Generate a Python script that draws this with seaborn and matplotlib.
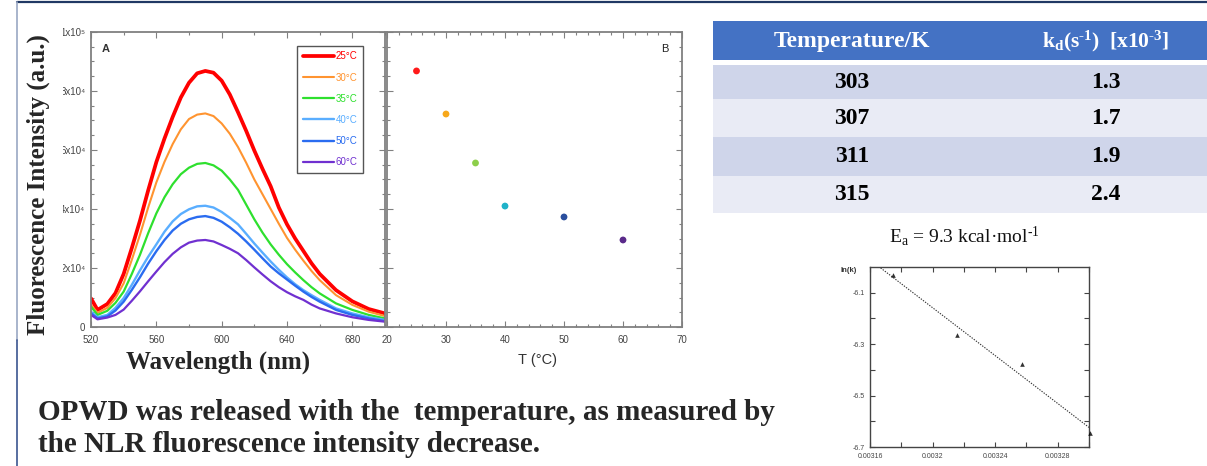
import numpy as np
import pandas as pd
import matplotlib
matplotlib.use("Agg")
import matplotlib.pyplot as plt
import seaborn as sns
from matplotlib.transforms import Bbox
from matplotlib.patches import Rectangle
from matplotlib.lines import Line2D


# ======================================================
# DATA
# ======================================================
# panel A: emission spectra, intensity in units of 10^3
wavelength = [520, 524, 530, 535, 540, 545, 550, 555, 560, 565, 570, 575, 580, 585,
              590, 595, 600, 605, 610, 615, 620, 625, 630, 635, 640, 645, 650, 655,
              660, 670, 680, 690, 700]
int_25 = [9.7, 5.8, 7.8, 11.5, 18.0, 26.8, 36.1, 46.3, 55.9, 63.9, 71.2, 77.8, 82.8, 86.0,
          86.8, 86.2, 83.5, 78.8, 72.8, 66.5, 59.8, 53.6, 47.7, 40.5, 34.8, 30.0, 25.8, 21.6,
          18.0, 12.5, 8.7, 6.1, 4.6]
int_30 = [7.5, 4.8, 6.5, 9.8, 14.8, 22.8, 31.3, 40.5, 49.0, 56.0, 62.0, 67.0, 70.5, 72.0,
          72.4, 71.5, 69.0, 65.5, 61.0, 55.7, 50.0, 45.0, 40.0, 35.0, 30.2, 26.2, 22.5, 19.0,
          15.9, 10.8, 7.5, 5.2, 3.7]
int_35 = [6.9, 4.1, 5.5, 8.2, 12.0, 18.0, 24.5, 31.8, 38.5, 44.0, 48.4, 51.8, 54.0, 55.3,
          55.6, 54.8, 53.0, 50.0, 46.5, 41.5, 36.5, 32.0, 28.0, 24.5, 21.3, 18.5, 15.9, 13.5,
          11.4, 8.0, 5.8, 4.1, 2.9]
int_40 = [5.2, 3.3, 4.1, 6.5, 9.8, 14.3, 19.2, 23.8, 28.0, 32.3, 35.8, 38.3, 39.9, 40.9,
          41.1, 40.5, 39.0, 37.0, 34.8, 31.6, 28.3, 25.2, 22.2, 19.4, 16.8, 14.5, 12.5, 10.8,
          9.2, 6.3, 4.6, 3.3, 2.4]
int_50 = [4.6, 2.9, 3.6, 5.6, 8.6, 12.6, 16.9, 21.5, 25.7, 29.5, 32.7, 35.0, 36.5, 37.3,
          37.6, 37.0, 35.7, 33.8, 31.6, 29.0, 26.2, 23.3, 20.5, 18.2, 16.1, 14.0, 12.0, 10.2,
          8.6, 5.8, 4.1, 2.9, 2.0]
int_60 = [4.1, 2.6, 3.2, 4.1, 5.9, 8.9, 12.1, 15.5, 18.8, 22.0, 24.8, 27.0, 28.6, 29.3,
          29.5, 29.0, 27.8, 26.5, 25.0, 22.7, 20.2, 17.8, 15.5, 13.5, 11.8, 10.4, 9.2, 7.6,
          6.3, 4.6, 3.3, 2.4, 1.8]
temp_labels = ["25°C", "30°C", "35°C", "40°C", "50°C", "60°C"]

# panel B: peak intensity vs temperature (10^3)
temps_C = [25, 30, 35, 40, 50, 60]
peak_int = [86.8, 72.2, 55.6, 41.0, 37.3, 29.5]

# table + arrhenius inset
temps_K = [303, 307, 311, 315]
kd = [1.3, 1.7, 1.9, 2.4]          # x10^-3 s^-1
table_header = ["Temperature/K", r"$\mathbf{k_d(s^{‐1})\ \ [x10^{‐3}]}$"]
ea_text = r"E$_\mathrm{a}$ = 9.3 kcal·mol$^{‐1}$"

ytick_labels_A = ["0", "2x10⁴", "4x10⁴", "6x10⁴", "8x10⁴", "1x10⁵"]
xtick_labels_C = ["0.00316", "0.0032", "0.00324", "0.00328"]
ytick_labels_C = ["-6.7", "-6.5", "-6.3", "-6.1"]

caption = ["OPWD was released with the  temperature, as measured by",
           "the NLR fluorescence intensity decrease."]


# ======================================================
# STYLE
# ======================================================
sns.set_theme(style="white")
plt.rcParams['font.family'] = ['Liberation Sans', 'DejaVu Sans']
plt.rcParams['mathtext.fontset'] = 'custom'
plt.rcParams['mathtext.rm'] = 'Liberation Serif'
plt.rcParams['mathtext.it'] = 'Liberation Serif:italic'
plt.rcParams['mathtext.bf'] = 'Liberation Serif:bold'

line_colors = {"25°C": "#ff0000", "30°C": "#ff9430", "35°C": "#2ee02e",
               "40°C": "#5aaeff", "50°C": "#2a6cf0", "60°C": "#7030d0"}
line_widths = {"25°C": 2.7, "30°C": 1.5, "35°C": 1.6,
               "40°C": 1.7, "50°C": 1.7, "60°C": 1.6}
point_colors = ["#ff1a1a", "#f7a81b", "#8dcf4a", "#1fb2c9", "#2a4f9e", "#5a2a8a"]
serif = ['Liberation Serif', 'DejaVu Serif']

W, H = 1207, 466
fig = plt.figure(figsize=(W / 100, H / 100), dpi=100)


def px_axes(left, top, right, bottom):
    return fig.add_axes([left / W, 1 - bottom / H, (right - left) / W, (bottom - top) / H])


def frame(ax, color, lw):
    for s in ax.spines.values():
        s.set_visible(True)
        s.set_color(color)
        s.set_linewidth(lw)
    ax.tick_params(which='both', direction='in', top=True, right=True,
                   bottom=True, left=True, color=color, width=0.8)


# background layer in pixel coords (slide border, table, text)
bg = fig.add_axes([0, 0, 1, 1], zorder=-1)
bg.set_xlim(0, W)
bg.set_ylim(H, 0)
bg.axis('off')

bg.plot([17, W], [1.5, 1.5], color="#203864", lw=1.6)
bg.plot([17, 17], [1.5, 340], color="#9aa8c4", lw=1.2)
bg.plot([17, 17], [340, H], color="#3b5590", lw=1.2)


# ======================================================
# PANEL A - SPECTRA
# ======================================================
spectra = [int_25, int_30, int_35, int_40, int_50, int_60]
df = pd.DataFrame({
    "wavelength": wavelength * len(spectra),
    "intensity": np.concatenate(spectra) * 1e3,
    "temp": np.repeat(temp_labels, len(wavelength)),
})

axA = px_axes(91, 32, 385, 327)
sns.lineplot(data=df, x="wavelength", y="intensity", hue="temp", size="temp",
             palette=line_colors, sizes=line_widths, hue_order=temp_labels,
             size_order=temp_labels, estimator=None, legend=False, ax=axA)
for ln in axA.get_lines():
    ln.set_solid_joinstyle('round')
axA.set_xlim(520, 700)
axA.set_ylim(0, 1e5)
axA.set_xlabel("")
axA.set_ylabel("")
frame(axA, "#808080", 1.3)
axA.set_xticks([520, 560, 600, 640, 680])
axA.set_xticks([540, 580, 620, 660, 700], minor=True)
axA.set_yticks(np.arange(0, 1.01e5, 2e4))
axA.set_yticklabels(ytick_labels_A)
axA.set_yticks(np.arange(0, 1.01e5, 5e3), minor=True)
axA.tick_params(which='major', length=4.5, labelsize=7, labelcolor="#444444")
axA.tick_params(which='minor', length=2.5)
axA.tick_params(axis='x', pad=6)
axA.tick_params(axis='y', pad=4)
for lab in axA.get_yticklabels():
    lab.set_clip_on(True)
    lab.set_clip_box(Bbox.from_extents(63, 0, 400, H))
axA.text(0.035, 0.96, "A", transform=axA.transAxes, fontsize=8,
         fontweight='bold', color="#333333", va='top', ha='left')

handles = [Line2D([], [], color=line_colors[t], lw=line_widths[t]) for t in temp_labels]
leg = axA.legend(handles, temp_labels, loc='upper right',
                 bbox_to_anchor=(363 / W, 1 - 46 / H), bbox_transform=fig.transFigure,
                 borderaxespad=0, frameon=True, fancybox=False, edgecolor="#555555",
                 framealpha=1, fontsize=7, labelcolor='linecolor', handlelength=3.2,
                 handletextpad=0.2, labelspacing=1.15, borderpad=0.55)
leg.get_frame().set_linewidth(1.0)

fig.text(38 / W, 1 - 185 / H, "Fluorescence Intensity (a.u.)", rotation=90,
         ha='center', va='center', fontsize=18, fontweight='bold', family=serif)
fig.text(218 / W, 1 - 362 / H, "Wavelength (nm)", ha='center', va='center',
         fontsize=18, fontweight='bold', family=serif)


# ======================================================
# PANEL B - PEAK INTENSITY vs T
# ======================================================
axB = px_axes(387, 32, 682, 327)
sns.scatterplot(x=temps_C, y=np.array(peak_int) * 1e3, hue=temp_labels,
                palette=point_colors, s=24, linewidth=0, legend=False, ax=axB)
axB.set_xlim(20, 70)
axB.set_ylim(0, 1e5)
frame(axB, "#808080", 1.3)
axB.set_xticks(np.arange(20, 71, 10))
axB.set_xticks(np.arange(20, 71, 2), minor=True)
axB.set_yticks(np.arange(0, 1.01e5, 2e4))
axB.set_yticks(np.arange(0, 1.01e5, 5e3), minor=True)
axB.tick_params(which='major', length=4.5, labelsize=7, labelcolor="#444444", pad=6)
axB.tick_params(which='minor', length=2.5)
axB.tick_params(axis='y', labelleft=False)
axB.text(0.955, 0.96, "B", transform=axB.transAxes, fontsize=8,
         color="#222222", va='top', ha='right')
fig.text(537 / W, 1 - 360 / H, "T (°C)", ha='center', va='center',
         fontsize=10.5, color="#333333")


# ======================================================
# TABLE
# ======================================================
bg.add_patch(Rectangle((713, 21), W - 713, 39, color="#4472C4", lw=0))
row_edges = [65, 99.3, 137.3, 175.7, 213.3]
row_colors = ["#CFD5EA", "#E9EBF5", "#CFD5EA", "#E9EBF5"]
col_x = [852, 1106]
bg.text(col_x[0], 41, table_header[0], ha='center', va='center', color='white',
        fontsize=17, fontweight='bold', family=serif)
bg.text(col_x[1], 41, table_header[1], ha='center', va='center', color='white',
        fontsize=15.5)
for i, (tk, k) in enumerate(zip(temps_K, kd)):
    y0, y1 = row_edges[i], row_edges[i + 1]
    bg.add_patch(Rectangle((713, y0), W - 713, y1 - y0, color=row_colors[i], lw=0))
    yc = (y0 + y1) / 2
    bg.text(col_x[0], yc, str(tk), ha='center', va='center', fontsize=17,
            fontweight='bold', family=serif, color='black')
    bg.text(col_x[1], yc, f"{k:.1f}", ha='center', va='center', fontsize=17,
            fontweight='bold', family=serif, color='black')

bg.text(964, 236, ea_text, ha='center', va='center', fontsize=14,
        family=serif, color='#111111')


# ======================================================
# ARRHENIUS INSET
# ======================================================
inv_T = 1.0 / np.array(temps_K)
ln_k = np.log(np.array(kd) * 1e-3)

axC = px_axes(870, 267, 1089, 447)
axC.set_xlim(0.00316, 0.0033)
sns.regplot(x=inv_T, y=ln_k, ci=None, truncate=False, marker='^', color='black',
            scatter_kws={'s': 11, 'linewidths': 0, 'clip_on': False, 'zorder': 5},
            line_kws={'ls': (0, (1.2, 1.2)), 'lw': 0.8, 'color': '#333333'}, ax=axC)
axC.set_xlim(0.00316, 0.0033)
axC.set_ylim(-6.7, -6.0)
axC.set_xlabel("")
axC.set_ylabel("")
frame(axC, "#444444", 1.0)
axC.set_xticks([0.00316, 0.0032, 0.00324, 0.00328])
axC.set_xticklabels(xtick_labels_C)
axC.set_xticks([0.00318, 0.00322, 0.00326, 0.0033], minor=True)
axC.set_yticks([-6.7, -6.5, -6.3, -6.1])
axC.set_yticklabels(ytick_labels_C)
axC.set_yticks([-6.6, -6.4, -6.2], minor=True)
axC.tick_params(which='both', length=3.5, labelsize=5, labelcolor="#444444", pad=4)
fig.text(857 / W, 1 - 271 / H, "ln(k)", ha='right', va='center', fontsize=5.5,
         fontweight='bold', color="#333333")


# ======================================================
# CAPTION
# ======================================================
fig.text(38 / W, 1 - 413 / H, caption[0], ha='left', va='center', fontsize=21,
         fontweight='bold', family=serif)
fig.text(38 / W, 1 - 444 / H, caption[1], ha='left', va='center', fontsize=21,
         fontweight='bold', family=serif)

fig.savefig("out.png", dpi=100, facecolor='white')
